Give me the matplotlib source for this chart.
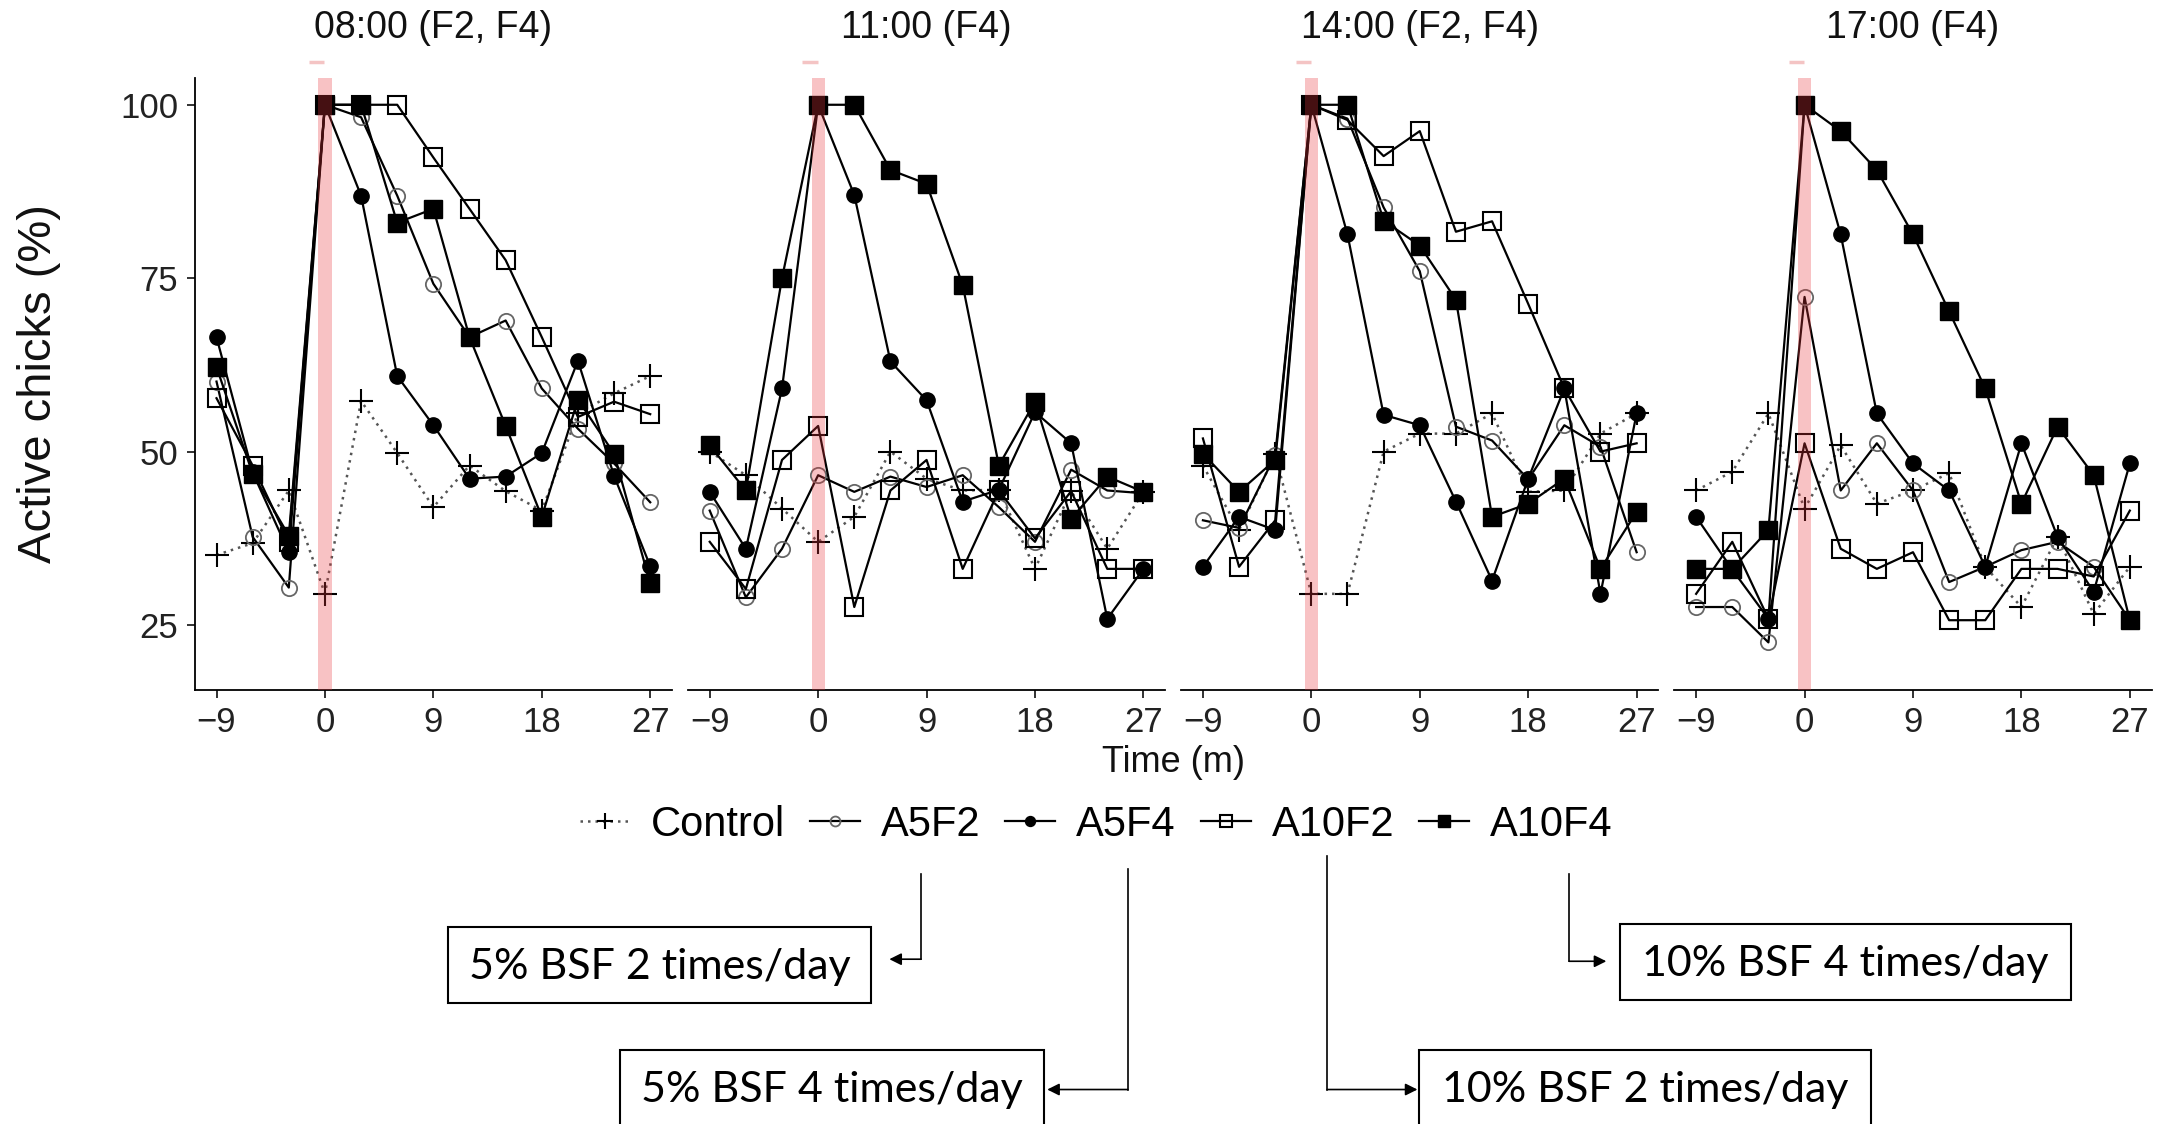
# Active chicks (%) around feeding time, four feeding sessions

import matplotlib.pyplot as plt
import matplotlib.patches as mpatches
from matplotlib.lines import Line2D

plt.rcParams['font.family'] = ['Liberation Sans', 'DejaVu Sans']

times = [-9, -6, -3, 0, 3, 6, 9, 12, 15, 18, 21, 24, 27]
panels = ['08:00 (F2, F4)', '11:00 (F4)', '14:00 (F2, F4)', '17:00 (F4)']
groups = ['Control', 'A5F2', 'A5F4', 'A10F2', 'A10F4']

# one row per panel (08:00, 11:00, 14:00, 17:00)
control = [
    [35.1, 36.8, 44.4, 29.5, 57.3, 49.8, 42.0, 48.0, 44.3, 41.5, 55.5, 58.4, 60.9],
    [50.0, 46.6, 41.8, 37.0, 40.6, 50.0, 46.1, 44.4, 44.5, 33.1, 44.3, 36.0, 44.2],
    [48.0, 38.7, 49.6, 29.5, 29.5, 50.0, 52.6, 52.6, 55.5, 44.2, 44.4, 52.6, 55.5],
    [44.4, 47.1, 55.5, 41.8, 50.9, 42.5, 44.4, 46.9, 33.4, 27.6, 37.7, 26.6, 33.4],
]
a5f2 = [
    [60.1, 37.7, 30.4, 100, 98.2, 86.9, 74.2, 66.5, 68.9, 59.1, 53.3, 48.3, 42.7],
    [41.5, 29.0, 36.0, 46.6, 44.2, 46.4, 44.9, 46.6, 42.0, 37.0, 47.4, 44.4, 44.0],
    [40.1, 39.0, 49.5, 100, 98.0, 85.2, 76.0, 53.6, 51.6, 46.0, 53.8, 50.7, 35.5],
    [27.6, 27.6, 22.5, 72.3, 44.4, 51.2, 44.4, 31.2, 33.4, 35.8, 37.0, 33.4, 25.7],
]
a5f4 = [
    [66.5, 47.0, 35.5, 100, 86.9, 60.9, 53.8, 46.1, 46.4, 49.8, 63.1, 46.5, 33.5],
    [44.2, 36.0, 59.1, 100, 87.0, 63.0, 57.4, 42.8, 44.5, 55.7, 51.2, 25.9, 33.1],
    [33.4, 40.6, 38.7, 100, 81.3, 55.3, 53.8, 42.8, 31.4, 46.1, 59.1, 29.5, 55.5],
    [40.6, 33.0, 25.9, 100, 81.3, 55.5, 48.3, 44.4, 33.4, 51.2, 37.7, 29.8, 48.3],
]
a10f2 = [
    [57.7, 48.0, 37.0, 100, 100, 100, 92.4, 85.0, 77.6, 66.5, 55.0, 57.2, 55.4],
    [37.0, 30.2, 48.8, 53.7, 27.6, 44.4, 48.8, 33.1, 44.4, 37.5, 44.3, 33.1, 33.1],
    [51.9, 33.4, 40.1, 100, 97.8, 92.6, 96.2, 81.7, 83.2, 71.3, 59.1, 50.0, 51.2],
    [29.5, 37.0, 25.9, 51.2, 36.0, 33.1, 35.5, 25.7, 25.7, 33.1, 33.1, 32.0, 41.5],
]
a10f4 = [
    [62.2, 46.8, 37.9, 100, 100, 83.0, 85.0, 66.5, 53.7, 40.6, 57.5, 49.7, 31.0],
    [50.9, 44.4, 75.0, 100, 100, 90.6, 88.6, 74.0, 48.0, 57.2, 40.3, 46.4, 44.2],
    [49.7, 44.2, 48.8, 100, 100, 83.3, 79.7, 71.9, 40.6, 42.5, 46.1, 33.1, 41.3],
    [33.1, 33.1, 38.7, 100, 96.2, 90.6, 81.3, 70.2, 59.1, 42.5, 53.6, 46.6, 25.7],
]
series = [control, a5f2, a5f4, a10f2, a10f4]

notes = ['5% BSF 2 times/day', '5% BSF 4 times/day',
         '10% BSF 2 times/day', '10% BSF 4 times/day']

styles = {
    'Control': dict(ls=(0, (1, 2)), lw=1.8, color='#555555', marker='+', ms=17,
                    mew=1.5, mec='black', mfc='black'),
    'A5F2': dict(ls='-', lw=1.6, color='black', marker='o', ms=11, mew=1.3,
                 mec='#666666', mfc='none'),
    'A5F4': dict(ls='-', lw=1.6, color='black', marker='o', ms=11, mew=1.0,
                 mec='black', mfc='black'),
    'A10F2': dict(ls='-', lw=1.6, color='black', marker='s', ms=13, mew=1.5,
                  mec='black', mfc='none'),
    'A10F4': dict(ls='-', lw=1.6, color='black', marker='s', ms=13, mew=1.0,
                  mec='black', mfc='black'),
}

# layout measured on a 1568 x 815 preview of the figure
PW, PH = 1568.0, 815.0
def P(x, y):
    return (x / PW, 1 - y / PH)

fig = plt.figure(figsize=(21.62, 11.24), dpi=100)

ax_w, ax_h = 346 / PW, 443.4 / PH
ax_bottom = 1 - 500 / PH
axes = []
for i, title in enumerate(panels):
    left = (141.3 + i * 357.7) / PW
    ax = fig.add_axes([left, ax_bottom, ax_w, ax_h])
    axes.append(ax)
    for g, vals in zip(groups, series):
        ax.plot(times, vals[i], label=g, **styles[g])
    # feeding time band, drawn on top
    ax.axvspan(-0.55, 0.55, color='#e8383d', alpha=0.3, lw=0, zorder=10)
    ax.plot([-1.3, -0.05], [106.2, 106.2], color='#f4c4c4', lw=2.5,
            clip_on=False, solid_capstyle='butt')
    ax.set_xlim(-10.8, 28.8)
    ax.set_ylim(15.7, 103.85)
    ax.set_xticks([-9, 0, 9, 18, 27])
    ax.set_yticks([25, 50, 75, 100])
    ax.text(0.5, 1.082, title, transform=ax.transAxes, ha='center', va='center',
            fontsize=27, color='#111111')
    for s in ['top', 'right']:
        ax.spines[s].set_visible(False)
    ax.spines['bottom'].set_linewidth(1.3)
    ax.spines['left'].set_linewidth(1.3)
    ax.tick_params(axis='both', labelsize=25, length=6, width=1.3,
                   colors='#222222', pad=6)
    if i > 0:
        ax.spines['left'].set_visible(False)
        ax.tick_params(axis='y', left=False, labelleft=False)

fig.text(28 / PW, ax_bottom + ax_h / 2, 'Active chicks (%)', rotation=90,
         ha='center', va='center', fontsize=34, color='#111111')
fig.text(*P(851, 553), 'Time (m)', ha='center', va='center', fontsize=26,
         color='#111111')

handles = [Line2D([], [], **styles[g]) for g in groups]
fig.legend(handles, groups, loc='center', bbox_to_anchor=P(795, 598), ncol=5,
           frameon=False, fontsize=30, handlelength=1.2, handletextpad=0.5,
           columnspacing=0.6, markerscale=0.65)

# annotation boxes below the legend
boxes = [(325, 672, 632, 727), (450, 761, 757, 818),
         (1029, 761, 1357, 818), (1175, 670, 1502, 725)]
text_pos = [(478.5, 701), (603.5, 790), (1193, 790), (1338.5, 699)]
links = [
    [(668, 634), (668, 695.5), (645, 695.5)],
    [(818, 630), (818, 790), (759.5, 790)],
    [(962.5, 621), (962.5, 790), (1028, 790)],
    [(1138, 634), (1138, 697), (1165, 697)],
]
for note, box, tp, link in zip(notes, boxes, text_pos, links):
    x0, y0 = P(box[0], box[3])
    x1, y1 = P(box[2], box[1])
    fig.add_artist(mpatches.Rectangle((x0, y0), x1 - x0, y1 - y0,
                                      transform=fig.transFigure, fill=False,
                                      lw=1.5, ec='black'))
    fig.text(*P(*tp), note, ha='center', va='center', fontsize=31,
             family=['Lato', 'DejaVu Sans'], color='black')
    a, b, c = [P(*pt) for pt in link]
    fig.add_artist(Line2D([a[0], b[0]], [a[1], b[1]], transform=fig.transFigure,
                          color='black', lw=1.2))
    fig.add_artist(mpatches.FancyArrowPatch(b, c, transform=fig.transFigure,
                                            arrowstyle='-|>', mutation_scale=18,
                                            lw=1.2, color='black',
                                            shrinkA=0, shrinkB=0))

savefile = 'out.png'
print('Saving figure to: ', savefile)
fig.savefig(savefile, dpi=100)
